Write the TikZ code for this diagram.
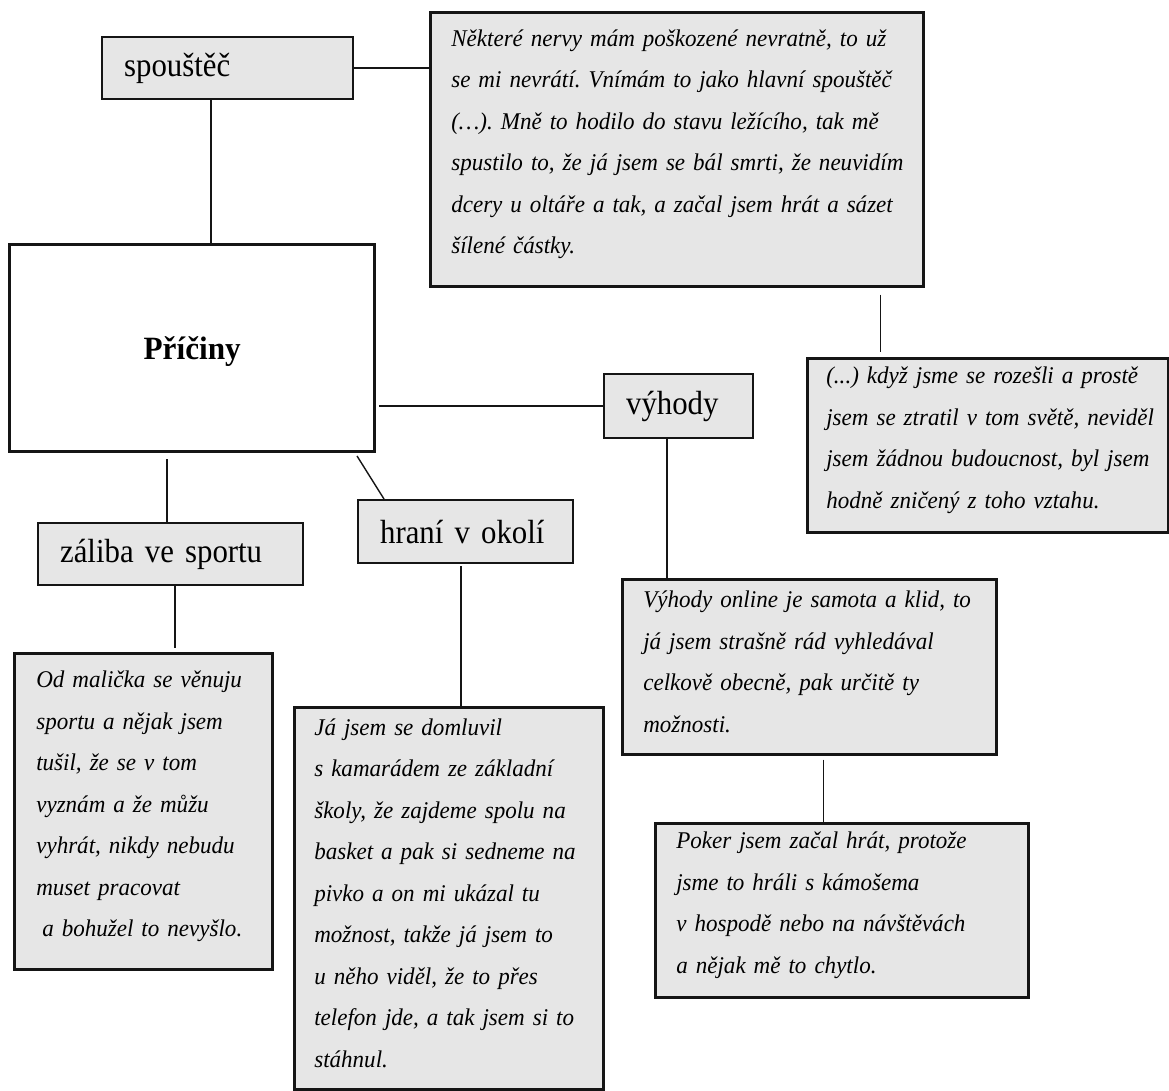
\documentclass[tikz,border=0pt]{standalone}
\usepackage{fontspec}
\setmainfont{Liberation Serif}
\newfontfamily\quoteserif{Liberation Serif}[FakeStretch=0.96]
\newfontfamily\tagserif{Liberation Serif}[FakeStretch=0.92]
\usetikzlibrary{calc}

\definecolor{boxfill}{HTML}{E6E6E6}
\definecolor{ink}{HTML}{151515}

\newcommand\quotefont{\quoteserif\fontsize{24}{41.5}\selectfont\itshape\frenchspacing}
\newcommand\labelfont{\tagserif\fontsize{33.5}{38}\selectfont}
% closes the quotation paragraph and leaves a little room below it
\newcommand\quoteend{\endgraf\vspace*{10pt}}

\begin{document}
\begin{tikzpicture}[x=1pt,y=-1pt,
  box/.style={draw=ink, fill=boxfill, rectangle, anchor=north west,
    inner xsep=0pt, inner ysep=0pt,
    execute at begin node={\leftskip=#1\relax\rightskip=0pt plus 1fil\relax\noindent}},
  box/.default=21pt,
  quote/.style={box=21pt, line width=2.6pt, font=\quotefont,
    execute at end node={\quoteend}},
  tag/.style={box=22pt, line width=2.2pt, font=\labelfont},
  core/.style={draw=ink, fill=white, line width=3.4pt, anchor=north west,
    inner sep=0pt, text depth=0pt, font=\quoteserif\fontsize{32.5}{38}\selectfont\bfseries},
  link/.style={draw=ink, line width=1.4pt},
]
\useasboundingbox (0,0) rectangle (1169,1090);

% central node
\node[core, minimum width=365pt, minimum height=207pt] (causes) at (8,243) {Příčiny};

% category labels
\node[tag, text width=251pt, minimum height=62pt] (spoust) at (101,36) {spouštěč};
\node[tag, text width=149pt, minimum height=64pt] (vyhody) at (603,373) {výhody};
\node[tag, text width=265pt, minimum height=62pt] (zaliba) at (37,522) {záliba ve sportu};
\node[tag, text width=215pt, minimum height=63pt] (hrani) at (357,499) {hraní v okolí};

% quotations
\node[quote, text width=493pt, minimum height=274pt] (trig) at (429,11) {%
Některé nervy mám poškozené nevratně, to už\\
se mi nevrátí. Vnímám to jako hlavní spouštěč\\
(…). Mně to hodilo do stavu ležícího, tak mě\\
spustilo to, že já jsem se bál smrti, že neuvidím\\
dcery u oltáře a tak, a začal jsem hrát a sázet\\
šílené částky.};

\node[quote, box=19pt, text width=361pt, minimum height=174pt] (breakup) at (806,357) {%
(...) když jsme se rozešli a prostě\\
jsem se ztratil v tom světě, neviděl\\
jsem žádnou budoucnost, byl jsem\\
hodně zničený z toho vztahu.};

\node[quote, box=22pt, text width=258pt, minimum height=316pt] (od) at (13,652) {%
Od malička se věnuju\\
sportu a nějak jsem\\
tušil, že se v tom\\
vyznám a že můžu\\
vyhrát, nikdy nebudu\\
muset pracovat\\
\hspace*{6pt}a bohužel to nevyšlo.};

\node[quote, box=20pt, text width=309pt, minimum height=382pt] (ja) at (293,706) {%
Já jsem se domluvil\\
s kamarádem ze základní\\
školy, že zajdeme spolu na\\
basket a pak si sedneme na\\
pivko a on mi ukázal tu\\
možnost, takže já jsem to\\
u něho viděl, že to přes\\
telefon jde, a tak jsem si to\\
stáhnul.};

\node[quote, text width=374pt, minimum height=175pt] (online) at (621,578) {%
Výhody online je samota a klid, to\\
já jsem strašně rád vyhledával\\
celkově obecně, pak určitě ty\\
možnosti.};

\node[quote, text width=373pt, minimum height=174pt] (poker) at (654,822) {%
Poker jsem začal hrát, protože\\
jsme to hráli s kámošema\\
v hospodě nebo na návštěvách\\
a nějak mě to chytlo.};

% connectors
\draw[link] (spoust.east) -- (spoust.east -| trig.west);
\draw[link] ([xshift=-16.5pt]spoust.south) -- ([xshift=-16.5pt]spoust.south |- causes.north);
\draw[link, shorten <=3pt] (causes.east |- vyhody.west) -- (vyhody.west);
\draw[link, shorten <=6pt] ([xshift=-3.5pt]zaliba.north |- causes.south) -- ([xshift=-3.5pt]zaliba.north);
\draw[link, shorten <=3pt] ([xshift=-21pt]causes.south east) -- ([xshift=27pt]hrani.north west);
\draw[link, shorten >=4pt] ([xshift=4.5pt]zaliba.south) -- ([xshift=4.5pt]zaliba.south |- od.north);
\draw[link, shorten <=2pt] ([xshift=-4.5pt]hrani.south) -- ([xshift=-4.5pt]hrani.south |- ja.north);
\draw[link] ([xshift=-11.5pt]vyhody.south) -- ([xshift=-11.5pt]vyhody.south |- online.north);
\draw[link, shorten <=4pt] ([xshift=14pt]online.south) -- ([xshift=14pt]online.south |- poker.north);
\draw[link, shorten <=7pt, shorten >=5pt] ([xshift=-44pt]trig.south east) -- ([xshift=-44pt]trig.south east |- breakup.north);
\end{tikzpicture}
\end{document}
